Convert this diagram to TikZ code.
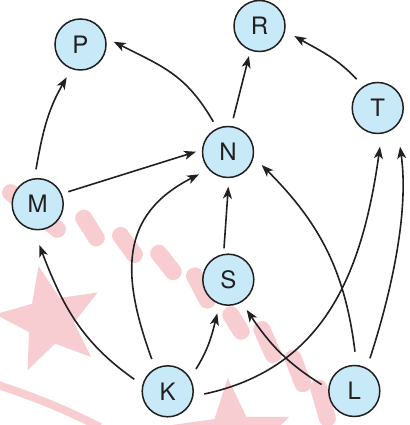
\documentclass[tikz,border=0pt]{standalone}
\usepackage{fontspec}
\setmainfont{TeX Gyre Heros}
\usetikzlibrary{arrows.meta,calc}
\definecolor{nodefill}{RGB}{199,233,248}
\definecolor{ink}{RGB}{35,31,32}
\definecolor{wmpink}{RGB}{247,205,209}
% five-pointed background star: centre x, centre y, outer radius, rotation
\newcommand\wmstar[4]{%
  \fill[wmpink, shift={(#1,#2)}]
    (#4:#3) -- ({#4+36}:{0.44*#3}) -- ({#4+72}:#3) -- ({#4+108}:{0.44*#3})
    -- ({#4+144}:#3) -- ({#4+180}:{0.44*#3}) -- ({#4+216}:#3)
    -- ({#4+252}:{0.44*#3}) -- ({#4+288}:#3) -- ({#4+324}:{0.44*#3}) -- cycle;}
% slanted background bar: centre x, centre y, angle, length
\newcommand\wmbar[4]{%
  \fill[wmpink, shift={(#1,#2)}, rotate=#3, rounded corners=8pt]
    ({-#4/2},-8.5) rectangle ({#4/2},8.5);}
\begin{document}
\begin{tikzpicture}[x=1pt,y=1pt,
  vertex/.style={circle, draw=ink, line width=1.5pt, fill=nodefill,
    minimum size=51pt, inner sep=0pt, text=ink,
    font=\fontsize{24}{26}\selectfont},
  edge/.style={draw=ink, line width=1.6pt,
    -{Stealth[length=12pt,width=9pt,inset=3.2pt]}}]
\useasboundingbox (0,0) rectangle (409,425);

% background stamp
\wmstar{50}{105}{55}{102}
\wmstar{232}{-15}{62}{94}
\draw[wmpink, line width=8pt] (-5,41) to[bend left=4] (100,-2);
\wmbar{34}{214}{-38}{76}
\wmbar{90}{197}{-58}{40}
\wmbar{127.5}{180}{-54}{40}
\wmbar{166}{162.5}{-52}{40}
\wmbar{201}{137}{-62}{44}
\wmbar{236}{102}{-58}{36}
\wmbar{267.5}{83}{-66}{44}
\wmbar{298}{54}{-69}{44}
\wmbar{323}{22}{-74}{48}

% vertices
\node[vertex] (P) at (80.5,380.5) {P};
\node[vertex] (R) at (259.5,399) {R};
\node[vertex] (T) at (377.7,317) {T};
\node[vertex] (N) at (228,273) {N};
\node[vertex] (M) at (37.7,220.8) {M};
\node[vertex] (S) at (228.3,145.3) {S};
\node[vertex] (K) at (167.7,33.7) {K};
\node[vertex] (L) at (354.3,34) {L};

% arcs
\draw[edge] ($(M)+(92.8:34.9)$) to[out=80,in=240] ($(P)+(247.2:35.6)$);
\draw[edge] ($(N)+(115.9:33.7)$) to[out=120,in=333,looseness=1.1] ($(P)+(4.8:33.3)$);
\draw[edge] ($(N)+(81.1:34.1)$) -- ($(R)+(250.7:31.8)$);
\draw[edge] ($(T)+(126.2:35.6)$) to[out=133,in=330] ($(R)+(-16:36.2)$);
\draw[edge] ($(M)+(22.2:33)$) -- ($(N)+(179.5:32)$);
\draw[edge] ($(K)+(116.3:36)$) to[out=110,in=207,looseness=1.2] ($(N)+(217.6:36.6)$);
\draw[edge] ($(S)+(97.8:31.7)$) -- ($(N)+(270.5:34.7)$);
\draw[edge] ($(K)+(160.2:35.5)$) to[out=145,in=291] ($(M)+(272.2:40.8)$);
\draw[edge] ($(K)+(38.2:36)$) to[out=58,in=256] ($(S)+(251.9:35.4)$);
\draw[edge] ($(K)+(-4.2:36.7)$) to[out=12,in=262,looseness=1.05] ($(T)+(273.4:38.8)$);
\draw[edge] ($(L)+(168.8:33.4)$) to[out=148,in=304] ($(S)+(301.3:35.4)$);
\draw[edge] ($(L)+(89:39.3)$) to[out=97,in=315] ($(N)+(-21.1:36.1)$);
\draw[edge] ($(L)+(64.4:36.3)$) to[out=72,in=278,looseness=0.8] ($(T)+(300:44.7)$);
\end{tikzpicture}
\end{document}
